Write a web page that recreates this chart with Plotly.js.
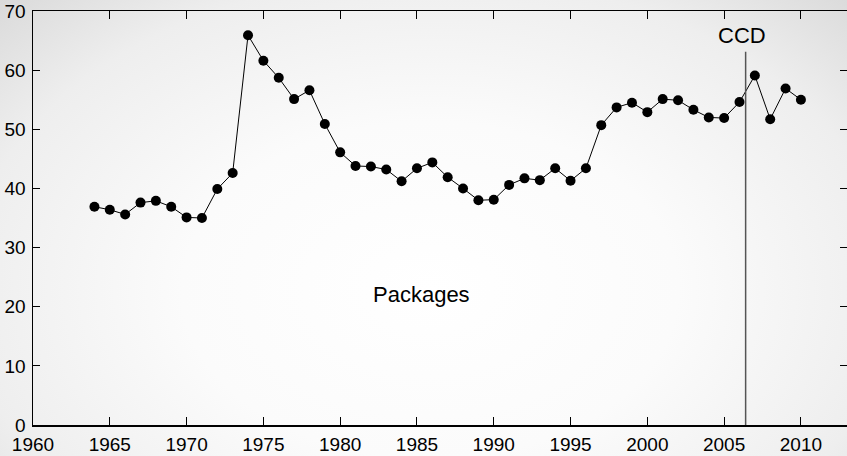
<!DOCTYPE html>
<html>
<head>
<meta charset="utf-8">
<script src="https://cdn.plot.ly/plotly-3.0.1.min.js"></script>
<style>
html, body { margin: 0; padding: 0; }
body {
  width: 847px; height: 456px; overflow: hidden;
  background: radial-gradient(ellipse 620px 420px at 430px 290px, #ffffff 0%, #fbfbfb 40%, #eeeeee 75%, #d8d8d8 100%);
}
#chart { width: 847px; height: 456px; }
</style>
</head>
<body>
<div id="chart"></div>
<script>
var years = [1964,1965,1966,1967,1968,1969,1970,1971,1972,1973,1974,1975,1976,1977,1978,1979,1980,1981,1982,1983,1984,1985,1986,1987,1988,1989,1990,1991,1992,1993,1994,1995,1996,1997,1998,1999,2000,2001,2002,2003,2004,2005,2006,2007,2008,2009,2010];
var packages = [36.9,36.4,35.6,37.6,37.9,36.9,35.1,35.0,39.9,42.6,65.9,61.6,58.7,55.1,56.6,50.9,46.1,43.8,43.7,43.2,41.2,43.4,44.4,41.9,40.0,38.0,38.1,40.6,41.7,41.4,43.4,41.3,43.4,50.7,53.7,54.5,52.9,55.1,54.9,53.3,52.0,51.9,54.6,59.1,51.7,56.9,55.0];
var xTicks = [1960,1965,1970,1975,1980,1985,1990,1995,2000,2005,2010];
var yTicks = [0,10,20,30,40,50,60,70];
var eventYear = 2006.4;
var eventTop = 63.1;
var eventLabel = "CCD";
var seriesLabel = "Packages";

var font = {family: "Liberation Sans, Arial, sans-serif", size: 19, color: "#000"};

var trace = {
  x: years, y: packages, type: "scatter", mode: "lines+markers",
  line: {color: "#000", width: 1},
  marker: {color: "#000", size: 10},
  hoverinfo: "skip"
};

var layout = {
  width: 847, height: 456,
  margin: {l: 33, r: 0, t: 11, b: 31, pad: 0},
  paper_bgcolor: "rgba(0,0,0,0)",
  plot_bgcolor: "rgba(0,0,0,0)",
  showlegend: false,
  font: font,
  xaxis: {
    range: [1960, 2013], tickvals: xTicks, ticktext: xTicks.map(String),
    ticks: "inside", ticklen: 8, tickwidth: 1, tickcolor: "#000",
    showline: true, linecolor: "#000", linewidth: 1.5, mirror: "ticks",
    showgrid: false, zeroline: false, tickfont: font, ticklabelstandoff: 2
  },
  yaxis: {
    range: [0, 70], tickvals: yTicks, ticktext: yTicks.map(String),
    ticks: "inside", ticklen: 7, tickwidth: 1, tickcolor: "#000",
    showline: true, linecolor: "#000", linewidth: 1.5, mirror: "ticks",
    showgrid: false, zeroline: false, tickfont: font, ticklabelstandoff: 2
  },
  shapes: [{
    type: "line", xref: "x", yref: "y",
    x0: eventYear, x1: eventYear, y0: 0, y1: eventTop,
    line: {color: "#555", width: 1.5}
  }],
  annotations: [
    {x: eventYear - 0.25, y: 65.9, xref: "x", yref: "y", text: eventLabel, showarrow: false,
     xanchor: "center", yanchor: "middle", font: {family: font.family, size: 22, color: "#000"}},
    {x: 1985.3, y: 22.1, xref: "x", yref: "y", text: seriesLabel, showarrow: false,
     xanchor: "center", yanchor: "middle", font: {family: font.family, size: 22, color: "#000"}}
  ]
};

Plotly.newPlot("chart", [trace], layout, {displayModeBar: false, staticPlot: true});
</script>
</body>
</html>
